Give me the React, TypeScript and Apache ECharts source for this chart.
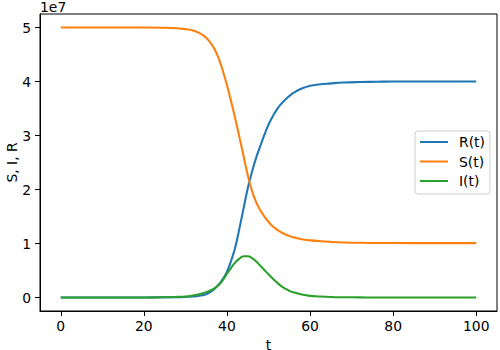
import React, { useEffect, useRef } from "react";
import * as echarts from "echarts";

// time points (t)
const tValues = [0, 10, 20, 25, 28, 30, 32, 33, 34, 35, 36, 37, 38, 39, 40, 41, 42, 43, 44, 45, 46, 47, 48, 49, 50, 51, 52, 53, 54, 55, 56, 58, 60, 62, 65, 68, 72, 76, 80, 90, 100];
// values in units of 1e7
const rValues = [0, 0, 0.001, 0.004, 0.007, 0.01, 0.02, 0.03, 0.04, 0.06, 0.1, 0.16, 0.24, 0.34, 0.48, 0.68, 0.93, 1.28, 1.65, 2.02, 2.32, 2.58, 2.8, 3.01, 3.2, 3.35, 3.48, 3.58, 3.66, 3.73, 3.79, 3.87, 3.92, 3.945, 3.965, 3.98, 3.99, 3.995, 4.0, 4.0, 4.0];
const sValues = [5.0, 5.0, 5.0, 4.995, 4.985, 4.97, 4.94, 4.91, 4.87, 4.81, 4.72, 4.6, 4.43, 4.2, 3.93, 3.63, 3.31, 2.97, 2.62, 2.27, 1.98, 1.77, 1.62, 1.5, 1.4, 1.32, 1.26, 1.21, 1.17, 1.14, 1.115, 1.08, 1.06, 1.045, 1.03, 1.02, 1.013, 1.01, 1.008, 1.007, 1.007];
const iValues = [0, 0, 0.001, 0.005, 0.012, 0.02, 0.04, 0.055, 0.075, 0.1, 0.13, 0.17, 0.23, 0.32, 0.44, 0.55, 0.65, 0.72, 0.765, 0.765, 0.73, 0.67, 0.59, 0.51, 0.43, 0.35, 0.28, 0.215, 0.165, 0.125, 0.095, 0.055, 0.03, 0.02, 0.01, 0.005, 0.002, 0, 0, 0, 0];

const xTicks = [0, 20, 40, 60, 80, 100];
const yTicks = [0, 1, 2, 3, 4, 5];
const seriesNames = ["R(t)", "S(t)", "I(t)"];
const colors = ["#1f77b4", "#ff7f0e", "#2ca02c"];

const FONT = "DejaVu Sans";
const FS = 13.9;

export default function App() {
  const ref = useRef<HTMLDivElement>(null);
  useEffect(() => {
    if (!ref.current) return;
    const chart = echarts.init(ref.current, undefined, { renderer: "svg" });
    const pair = (vals: number[]) => tValues.map((t, i) => [t, vals[i]]);
    const allVals = [rValues, sValues, iValues];
    chart.setOption({
      animation: false,
      backgroundColor: "#ffffff",
      textStyle: { fontFamily: FONT },
      grid: {
        left: 40,
        top: 14,
        width: 457,
        height: 297,
        containLabel: false,
        outerBoundsMode: "none",
        show: true,
        borderColor: "#000",
        borderWidth: 1,
        backgroundColor: "#fff",
      },
      legend: {
        orient: "vertical",
        left: 415,
        top: 131,
        data: seriesNames,
        icon: "rect",
        itemWidth: 28,
        itemHeight: 2,
        itemGap: 5.5,
        padding: [4, 5, 6, 5],
        borderColor: "#d0d0d0",
        borderWidth: 1,
        borderRadius: 3,
        backgroundColor: "rgba(255,255,255,0.8)",
        textStyle: { fontFamily: FONT, fontSize: FS, lineHeight: 14, color: "#000", padding: [0, 0, 0, 6] },
      },
      graphic: [
        {
          type: "text",
          left: 40,
          top: 0,
          style: { text: "1e7", fontFamily: FONT, fontSize: FS, lineHeight: 12, fill: "#000" },
        },
      ],
      xAxis: {
        type: "value",
        min: -5,
        max: 105,
        name: "t",
        nameLocation: "middle",
        nameGap: 24,
        nameTextStyle: { fontFamily: FONT, fontSize: FS, lineHeight: 12, color: "#000" },
        axisLine: { show: true, onZero: false, lineStyle: { color: "#000", width: 1 } },
        axisTick: { show: true, length: 5, customValues: xTicks, lineStyle: { color: "#000" } },
        axisLabel: { customValues: xTicks, margin: 8, fontFamily: FONT, fontSize: FS, color: "#000" },
        splitLine: { show: false },
      },
      yAxis: {
        type: "value",
        min: -0.25,
        max: 5.25,
        name: "S, I, R",
        nameLocation: "middle",
        nameGap: 22,
        nameMoveOverlap: false,
        nameRotate: 90,
        nameTextStyle: { fontFamily: FONT, fontSize: FS, lineHeight: 12, color: "#000" },
        axisLine: { show: true, onZero: false, lineStyle: { color: "#000", width: 1 } },
        axisTick: { show: true, length: 5, customValues: yTicks, lineStyle: { color: "#000" } },
        axisLabel: { customValues: yTicks, margin: 9, fontFamily: FONT, fontSize: FS, color: "#000" },
        splitLine: { show: false },
      },
      series: seriesNames.map((name, k) => ({
        name,
        type: "line",
        data: pair(allVals[k]),
        symbol: "none",
        smooth: 0.5,
        lineStyle: { width: 2.08, color: colors[k] },
        itemStyle: { color: colors[k] },
      })),
    });
    return () => chart.dispose();
  }, []);
  return <div ref={ref} style={{ width: 500, height: 350, position: "fixed", left: 0, top: 0 }} />;
}
